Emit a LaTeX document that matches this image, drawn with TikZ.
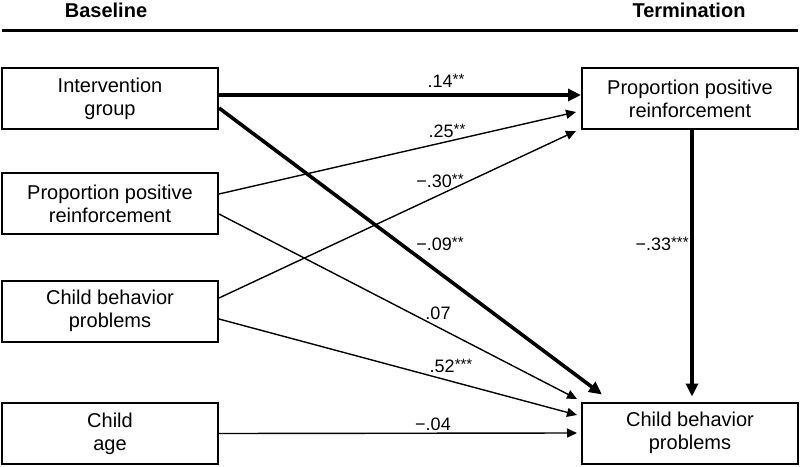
\documentclass[tikz,border=0pt]{standalone}
\usepackage{fontspec}
\setmainfont{Liberation Sans}
\usetikzlibrary{arrows.meta, calc}

\newcommand{\stars}[1]{\raisebox{1.2pt}{\fontsize{7.5}{7.5}\selectfont #1}}

\tikzset{
  varbox/.style={draw, line width=1pt, minimum width=108pt, minimum height=30.5pt,
    inner sep=0pt, align=center, font=\fontsize{10}{11.5}\selectfont},
  heading/.style={font=\fontsize{10}{12}\selectfont\bfseries, inner sep=0pt},
  coef/.style={font=\fontsize{9}{10}\selectfont, inner sep=0pt},
  thinarrow/.style={line width=0.7pt, -{Triangle[length=5pt, width=4.5pt]}},
  thickarrow/.style={line width=1.8pt, -{Triangle[length=6.5pt, width=6pt]}},
}

\begin{document}
\begin{tikzpicture}[x=0.5pt, y=-0.5pt]
        \useasboundingbox (0,0) rectangle (800,467);
        % headings
        \node[heading] (base) at (106,10) {Baseline};
        \node[heading] (term) at (689,10) {Termination};
        \draw[line width=1.5pt] (2,30) -- (798,30);

        % baseline variables
        \node[varbox] (ig)   at (110,98.5)  {Intervention\\group};
        \node[varbox] (ppra) at (110,203.5) {Proportion positive\\reinforcement};
        \node[varbox] (cbpa) at (110,311)   {Child behavior\\problems};
        \node[varbox] (age)  at (110,433.5) {Child\\age};

        % termination variables
        \node[varbox] (pprb) at (690,98.5) {Proportion positive\\reinforcement};
        \node[varbox] (cbpb) at (690,433)  {Child behavior\\problems};

        % paths
        \draw[thickarrow] ($(ig.east)+(0,-3.5)$) -- ($(pprb.west)+(0,-3.5)$);
        \draw[thickarrow] ($(ig.east)+(0,9.5)$) -- ($(cbpb.north west)+(21,-7)$);
        \draw[thinarrow] ($(ppra.east)+(0,-9.5)$) -- ($(pprb.west)+(-5,13.5)$);
        \draw[thinarrow] ($(ppra.east)+(0,10.5)$) -- ($(cbpb.west)+(-4,-34)$);
        \draw[thinarrow] ($(cbpa.east)+(0,-13)$) -- ($(pprb.west)+(-5,32.5)$);
        \draw[thinarrow] ($(cbpa.east)+(0,8)$) -- ($(cbpb.west)+(-4,-18)$);
        \draw[thinarrow] (age.east) -- ($(cbpb.west)+(-4,0)$);
        \draw[thickarrow] ($(pprb.south)+(2,0)$) -- ($(cbpb.north)+(2,-5)$);

        % coefficients
        \node[coef] (c1) at (446,81)  {.14\stars{**}};
        \node[coef] (c2) at (447,131) {.25\stars{**}};
        \node[coef] (c3) at (440,181) {−.30\stars{**}};
        \node[coef] (c4) at (440,244) {−.09\stars{**}};
        \node[coef] (c5) at (438,313) {.07};
        \node[coef] (c6) at (451,366) {.52\stars{***}};
        \node[coef] (c7) at (433,424) {−.04};
        \node[coef, anchor=east] (c8) at (689,244) {−.33\stars{***}};
    \end{tikzpicture}
\end{document}
